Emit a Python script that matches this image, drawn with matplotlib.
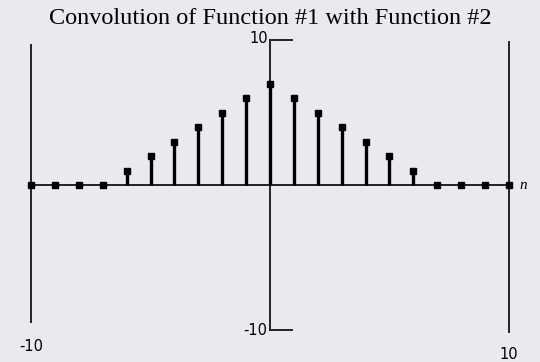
import matplotlib.pyplot as plt
import numpy as np

# convolution result, n = -10..10
n = np.arange(-10, 11)
y = np.array([0, 0, 0, 0, 1, 2, 3, 4, 5, 6, 7, 6, 5, 4, 3, 2, 1, 0, 0, 0, 0])

bg = "#e9e9f0"

fig = plt.figure(figsize=(5.4, 3.62), dpi=100, facecolor=bg)
ax = fig.add_axes([0, 0, 1, 1])
ax.set_facecolor(bg)
ax.set_xlim(-11.3, 11.3)
ax.set_ylim(-12.2, 12.76)
ax.axis("off")

# axes drawn by hand, like the original applet
ax.plot([-10, 10], [0, 0], color="#222222", lw=1.4, zorder=1)
ax.plot([0, 0], [-10, 10], color="#222222", lw=1.4, zorder=1)
ax.plot([0, 0.9], [10, 10], color="#222222", lw=1.4)
ax.plot([0, 0.9], [-10, -10], color="#222222", lw=1.4)
ax.plot([-10, -10], [-9.45, 9.65], color="#222222", lw=1.4)
ax.plot([10, 10], [-10.1, 9.85], color="#222222", lw=1.4)

ml, sl, bl = ax.stem(n, y, linefmt="k-", markerfmt="ks", basefmt=" ")
plt.setp(sl, lw=2.4)
plt.setp(ml, markersize=5)

ax.text(-0.1, 10.1, "10", ha="right", va="center", fontsize=10.5, family="DejaVu Sans")
ax.text(-0.1, -10, "-10", ha="right", va="center", fontsize=10.5, family="DejaVu Sans")
ax.text(-10, -10.6, "-10", ha="center", va="top", fontsize=10.5, family="DejaVu Sans")
ax.text(10, -11.2, "10", ha="center", va="top", fontsize=10.5, family="DejaVu Sans")
ax.text(10.45, 0, "n", ha="left", va="center", fontsize=11, style="italic",
        family="Liberation Serif")

ax.text(0, 11.5, "Convolution of Function #1 with Function #2", ha="center",
        va="center", fontsize=17.5, family="Liberation Serif")

plt.savefig("out.png", dpi=100, facecolor=bg)
